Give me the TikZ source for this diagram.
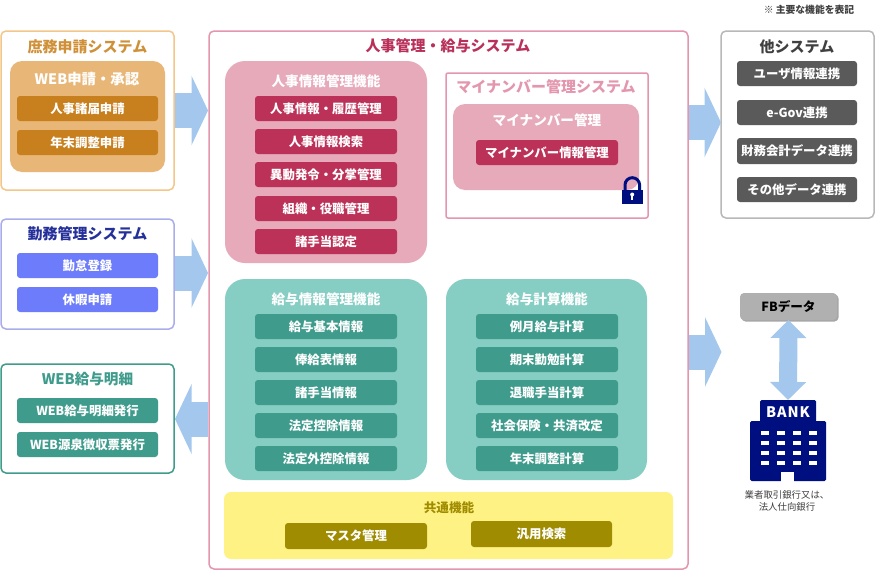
\documentclass[tikz,border=0pt]{standalone}
\usepackage{fontspec}
\setmainfont{Noto Sans CJK JP}
\usetikzlibrary{arrows.meta,shadows,calc}
\definecolor{orBorder}{HTML}{F3C78A}\definecolor{orTitle}{HTML}{CF9038}\definecolor{orGroup}{HTML}{E8B777}\definecolor{orItem}{HTML}{C87F1E}
\definecolor{blBorder}{HTML}{A9AEEA}\definecolor{blTitle}{HTML}{25309A}\definecolor{blItem}{HTML}{6D7CFA}
\definecolor{tlBorder}{HTML}{3F9C8D}\definecolor{tlGroup}{HTML}{86CEC3}\definecolor{tlItem}{HTML}{3F9C8D}
\definecolor{pkBorder}{HTML}{E396AE}\definecolor{pkGroup}{HTML}{E6AABB}\definecolor{pkItem}{HTML}{BC3157}\definecolor{pkTitle}{HTML}{B9305A}
\definecolor{yeGroup}{HTML}{FFF285}\definecolor{yeItem}{HTML}{A08C00}
\definecolor{gyBorder}{HTML}{B8B8B8}\definecolor{gyItem}{HTML}{5A5A5A}\definecolor{gyTitle}{HTML}{404040}\definecolor{gyFB}{HTML}{B0B0B0}
\definecolor{navy}{HTML}{000F7F}\definecolor{arrowBlue}{HTML}{A4C7EE}
\newcommand{\bx}[7]{\node[#6,minimum width={#4-#2},minimum height={#5-#3}] (#1) at ({(#2+#4)/2},{(#3+#5)/2}) {#7};}
\tikzset{
 box/.style={inner sep=0pt,outer sep=0pt,rounded corners=#1},
 box/.default=3pt,
 frame/.style={box=5pt,fill=white,draw=#1,line width=1.5pt},
 group/.style={box=20pt,fill=#1},
 item/.style={box=3pt,fill=#1,text=white,font=\fontsize{12.4}{12.4}\selectfont\bfseries},
 ttl/.style={inner sep=0pt,text=#1,font=\fontsize{15}{15}\selectfont\bfseries},
 subttl/.style={inner sep=0pt,text=#1,font=\fontsize{13.6}{13.6}\selectfont\bfseries},
 blockarrow/.style={draw=arrowBlue,line width=35pt,-{Triangle[length=16.5pt,width=69pt,color=arrowBlue]}},
 dblarrow/.style={draw=arrowBlue,line width=18pt,{Triangle[length=18pt,width=35pt,color=arrowBlue]}-{Triangle[length=18pt,width=35pt,color=arrowBlue]}},
}
\begin{document}
\begin{tikzpicture}[x=1pt,y=-1pt]
\useasboundingbox (0,0) rectangle (890,570);
\fill[white] (0,0) rectangle (890,570);

\node[inner sep=0pt,font=\fontsize{9.8}{9.8}\selectfont\bfseries,text=gyTitle] (note) at (809,9.5) {※ 主要な機能を表記};

% left systems
\bx{shomu}{1}{31}{174}{190}{frame=orBorder}{}
\node[ttl=orTitle] (shomuT) at (87.5,46.5) {庶務申請システム};
\bx{webapp}{10}{61}{165}{172}{group=orGroup,box=12pt}{}
\node[subttl=white,font=\fontsize{14.4}{14.4}\selectfont\bfseries] (webappT) at (87,79) {WEB申請・承認};
\bx{s1}{17}{96}{158}{121}{item=orItem}{人事諸届申請}
\bx{s2}{17}{130}{158}{155}{item=orItem}{年末調整申請}

\bx{kinmu}{1}{219}{174}{329}{frame=blBorder}{}
\node[ttl=blTitle] (kinmuT) at (87.5,234) {勤務管理システム};
\bx{k1}{17}{253}{158}{278}{item=blItem}{勤怠登録}
\bx{k2}{17}{287}{158}{312}{item=blItem}{休暇申請}

\bx{web}{1}{364}{174}{473}{frame=tlBorder}{}
\node[ttl=tlBorder,font=\fontsize{14.6}{14.6}\selectfont\bfseries] (webT) at (87.5,379) {WEB給与明細};
\bx{w1}{17}{398}{158}{423}{item=tlItem}{WEB給与明細発行}
\bx{w2}{17}{432}{158}{457}{item=tlItem}{WEB源泉徴収票発行}

% main
\bx{main}{209}{31}{688}{569}{frame=pkBorder}{}
\node[ttl=pkTitle] (mainT) at (448,46) {人事管理・給与システム};

\bx{jinji}{225}{61}{427}{263}{group=pkGroup}{}
\node[subttl=white] (jinjiT) at (326,81) {人事情報管理機能};
\bx{j1}{255}{96}{397}{121}{item=pkItem}{人事情報・履歴管理}
\bx{j2}{255}{129}{397}{154}{item=pkItem}{人事情報検索}
\bx{j3}{255}{162}{397}{187}{item=pkItem}{異動発令・分掌管理}
\bx{j4}{255}{196}{397}{221}{item=pkItem}{組織・役職管理}
\bx{j5}{255}{229}{397}{254}{item=pkItem}{諸手当認定}

\bx{mysys}{446}{73}{648}{218}{frame=pkBorder,box=2pt}{}
\node[subttl=pkBorder,font=\fontsize{15}{15}\selectfont\bfseries] (mysysT) at (546,87) {マイナンバー管理システム};
\bx{mygr}{453}{104}{639}{190}{group=pkGroup,box=12pt}{}
\node[subttl=white] (mygrT) at (547,120) {マイナンバー管理};
\bx{my1}{476}{140}{618}{165}{item=pkItem}{マイナンバー情報管理}

% lock
\draw[navy,line width=3pt] (625,190) -- (625,185) arc[start angle=180,end angle=360,radius=7.3] -- (639.6,190);
\fill[navy] (622,189.5) rectangle (642.5,204);
\fill[white] (632.2,194.5) circle (2pt);
\fill[white] (631.4,195) rectangle (633,200);

\bx{kyuyo}{225}{279}{427}{480}{group=tlGroup}{}
\node[subttl=white] (kyuyoT) at (326,299) {給与情報管理機能};
\bx{g1}{255}{314}{397}{339}{item=tlItem}{給与基本情報}
\bx{g2}{255}{347}{397}{372}{item=tlItem}{俸給表情報}
\bx{g3}{255}{380}{397}{405}{item=tlItem}{諸手当情報}
\bx{g4}{255}{413}{397}{438}{item=tlItem}{法定控除情報}
\bx{g5}{255}{446}{397}{471}{item=tlItem}{法定外控除情報}

\bx{keisan}{446}{279}{647}{480}{group=tlGroup}{}
\node[subttl=white] (keisanT) at (547,299) {給与計算機能};
\bx{c1}{476}{314}{618}{339}{item=tlItem}{例月給与計算}
\bx{c2}{476}{347}{618}{372}{item=tlItem}{期末勤勉計算}
\bx{c3}{476}{380}{618}{405}{item=tlItem}{退職手当計算}
\bx{c4}{476}{413}{618}{438}{item=tlItem}{社会保険・共済改定}
\bx{c5}{476}{446}{618}{471}{item=tlItem}{年末調整計算}

\bx{kyotsu}{224}{492}{673}{559}{group=yeGroup,box=7pt}{}
\node[inner sep=0pt,text=yeItem,font=\fontsize{12.6}{12.6}\selectfont\bfseries] (kyotsuT) at (449,508) {共通機能};
\bx{y1}{285}{523}{427}{549}{item=yeItem}{マスタ管理}
\bx{y2}{471}{521}{612}{547}{item=yeItem}{汎用検索}

% other systems
\bx{other}{721}{31}{874}{218}{frame=gyBorder}{}
\node[ttl=gyTitle] (otherT) at (797,47) {他システム};
\bx{o1}{737}{61}{857}{86}{item=gyItem}{ユーザ情報連携}
\bx{o2}{737}{100}{857}{125}{item=gyItem}{e-Gov連携}
\bx{o3}{737}{138}{857}{164}{item=gyItem}{財務会計データ連携}
\bx{o4}{737}{177}{857}{202}{item=gyItem}{その他データ連携}

% FB + bank
\bx{fb}{740}{293}{837}{320}{box=4pt,fill=gyFB,text=black,font=\fontsize{12.6}{12.6}\selectfont\bfseries,drop shadow={shadow xshift=1.5pt,shadow yshift=-1.5pt,opacity=.35,fill=black}}{FBデータ}
\bx{banktop}{760}{400}{816}{424}{box=1.5pt,fill=navy,text=white,font=\fontsize{14.5}{14.5}\selectfont\bfseries\addfontfeature{LetterSpace=6}}{BANK}
\bx{bankbody}{750}{421}{826}{481}{box=1.5pt,fill=navy}{}
\foreach \cx in {761,777,793,808.5}
 \foreach \cy in {431,441,451,461}
  \fill[white] (\cx,\cy) rectangle +(8,3.5);
\fill[white] (781,472) -- (794,472) -- (794,481.5) -- (781,481.5) -- cycle;
\node[inner sep=0pt,align=center,text=gyTitle,font=\fontsize{9.4}{12}\selectfont] (cap) at (787,501) {業者取引銀行又は、\\法人仕向銀行};

% block arrows
\coordinate (a2s) at (175,273);
\coordinate (a2e) at (208,273);
\coordinate (a1e) at (208,110.5);
\coordinate (a3s) at (208,419);
\coordinate (a3e) at (175,419);
\coordinate (a4s) at (688.5,122.5);
\coordinate (a4e) at (721,122.5);
\coordinate (a5s) at (688.5,352);
\coordinate (a5e) at (721.5,352);
\draw[blockarrow] ([xshift=1pt]shomu.east) -- (a1e);
\draw[blockarrow] (a2s) -- (a2e);
\draw[blockarrow] (a3s) -- (a3e);
\draw[blockarrow] (a4s) -- (a4e);
\draw[blockarrow] (a5s) -- (a5e);
\draw[dblarrow] (fb.south) -- (banktop.north);
\end{tikzpicture}
\end{document}
